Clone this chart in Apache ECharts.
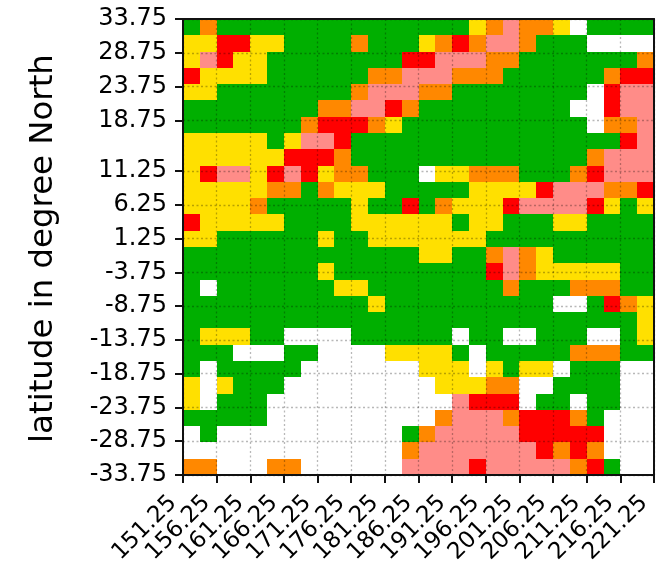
<!DOCTYPE html>
<html><head><meta charset="utf-8">
<script src="https://cdn.jsdelivr.net/npm/echarts@6/dist/echarts.min.js"></script>
<style>html,body{margin:0;padding:0;background:#fff}#c{width:663px;height:564px}</style>
</head><body><div id="c"></div>
<script>
const xTicks=[151.25,156.25,161.25,166.25,171.25,176.25,181.25,186.25,191.25,196.25,201.25,206.25,211.25,216.25,221.25];
const yTicks=[33.75,28.75,23.75,18.75,11.25,6.25,1.25,-3.75,-8.75,-13.75,-18.75,-23.75,-28.75,-33.75];
const classColors={G:'#00af00',Y:'#ffe000',O:'#ff8800',P:'#ff8c88',R:'#ff0000',W:'#ffffff'};
const rows=[
"GOGGGGGGGGGGGGGGGYOPOOYWGGGG",
"YYRRYYGGGGOGGGYOROPPOGGGWWWW",
"YPRYYGGGGGGGGRRPPPOOGGGGGGGO",
"RYYYYGGGGGGOOPPPOOOGGGGGGORR",
"YYGGGGGGGGOPPPOOGGGGGGGGWRPP",
"GGGGGGGGOOPPROGGGGGGGGGWWRPP",
"GGGGGGGORRROYGGGGGGGGGGGWOOP",
"YYYYYGYPPRGGGGGGGGGGGGGGGGRP",
"YYYYYYRRROGGGGGGGGGGGGGGOPPP",
"YRPPYRPRYOOGGGWYYOOOGGGORPPP",
"YYYYYOOGOYYYGGGGGYYYYRPPPOOR",
"YYYYOGGGGGYGGRGOYYYRPPPPRYGY",
"RYYYYYGGGGYYYYYYGYYGGGYYGGGG",
"YYGGGGGGYGGYYYYYYYGGGGGGGGGG",
"GGGGGGGGGGGGGGYYGGOPOYGGGGGG",
"GGGGGGGGYGGGGGGGGGRPOYYYYYGG",
"GWGGGGGGGYYGGGGGGGGOGGGOOOGG",
"GGGGGGGGGGGYGGGGGGGGGGWWGROY",
"GGGGGGGGGGGGGGGGGGGGGGGGGGGY",
"GYYYGGWWWWGGGGGGWGGWWGGGWWGY",
"GGGWWWGGWWWWYYYYGWGGGGGOOOGG",
"GWGGGGGWWWWWWWYYYWYGYYWGGGWW",
"YWYGGGWWWWWWWWWYYYOOWWGGGGWW",
"YWGGGWWWWWWWWWWWPRRRWGGWGGWW",
"GGGGGWWWWWWWWWWOPPPORRROGWWW",
"WGWWWWWWWWWWWGOPPPPPRRRRRWWW",
"WWWWWWWWWWWWWOPPPPPPPROROWWW",
"OOWWWOOWWWWWWPPPPRPPPPPORGWW"
];
const lonStart=151.25, lonEnd=221.25, latTop=33.75, latBottom=-33.75;
const nRows=rows.length, nCols=rows[0].length;
const dLon=(lonEnd-lonStart)/nCols, dLat=(latTop-latBottom)/nRows;
const cells=[];
rows.forEach((r,i)=>{[...r].forEach((c,j)=>{
  cells.push([lonStart+j*dLon, latTop-i*dLat, lonStart+(j+1)*dLon, latTop-(i+1)*dLat, c]);
});});
const fontFam='"DejaVu Sans", sans-serif';
const gridLine={show:true,lineStyle:{color:'rgba(0,0,0,0.28)',type:[2,2.5],width:1.3}};
const spine={show:true,onZero:false,lineStyle:{color:'#111',width:2}};
const chart=echarts.init(document.getElementById('c'),null,{renderer:'canvas'});
chart.setOption({
  animation:false,
  backgroundColor:'#fff',
  grid:{left:183,top:19,width:471,height:456,containLabel:false,outerBoundsMode:'none'},
  xAxis:[{
    type:'value',min:lonStart,max:lonEnd,position:'bottom',z:10,
    axisLine:spine,
    axisTick:{show:true,length:8,lineStyle:{color:'#111',width:2},customValues:xTicks},
    axisLabel:{show:true,customValues:xTicks,rotate:45,fontFamily:fontFam,fontSize:23,color:'#000',margin:14.5,
      padding:[0,14,0,0],hideOverlap:false,formatter:v=>v.toFixed(2)},
    splitLine:gridLine
  },{
    type:'value',min:lonStart,max:lonEnd,position:'top',z:10,
    axisLine:spine,axisTick:{show:false},axisLabel:{show:false},splitLine:{show:false}
  }],
  yAxis:[{
    type:'value',min:latBottom,max:latTop,position:'left',z:10,
    name:'latitude in degree North',nameLocation:'middle',nameGap:123,
    nameTextStyle:{fontFamily:fontFam,fontSize:32.4,color:'#000',padding:[0,3,0,0]},
    axisLine:spine,
    axisTick:{show:true,length:8,lineStyle:{color:'#111',width:2},customValues:yTicks},
    axisLabel:{show:true,customValues:yTicks,fontFamily:fontFam,fontSize:24,lineHeight:18,color:'#000',margin:16,
      padding:[8,0,0,0],hideOverlap:false,formatter:v=>v.toFixed(2)},
    splitLine:gridLine
  },{
    type:'value',min:latBottom,max:latTop,position:'right',z:10,
    axisLine:spine,axisTick:{show:false},axisLabel:{show:false},splitLine:{show:false}
  }],
  series:[{
    type:'custom',coordinateSystem:'cartesian2d',xAxisIndex:0,yAxisIndex:0,silent:true,
    encode:{x:[0,2],y:[1,3]},
    data:cells,
    renderItem:(p,api)=>{
      const a=api.coord([api.value(0),api.value(1)]).map(Math.round);
      const b=api.coord([api.value(2),api.value(3)]).map(Math.round);
      const code=cells[p.dataIndex][4];
      return {type:'rect',shape:{x:a[0],y:a[1],width:b[0]-a[0],height:b[1]-a[1]},
        style:{fill:classColors[code]}};
    }
  }]
});
</script></body></html>
